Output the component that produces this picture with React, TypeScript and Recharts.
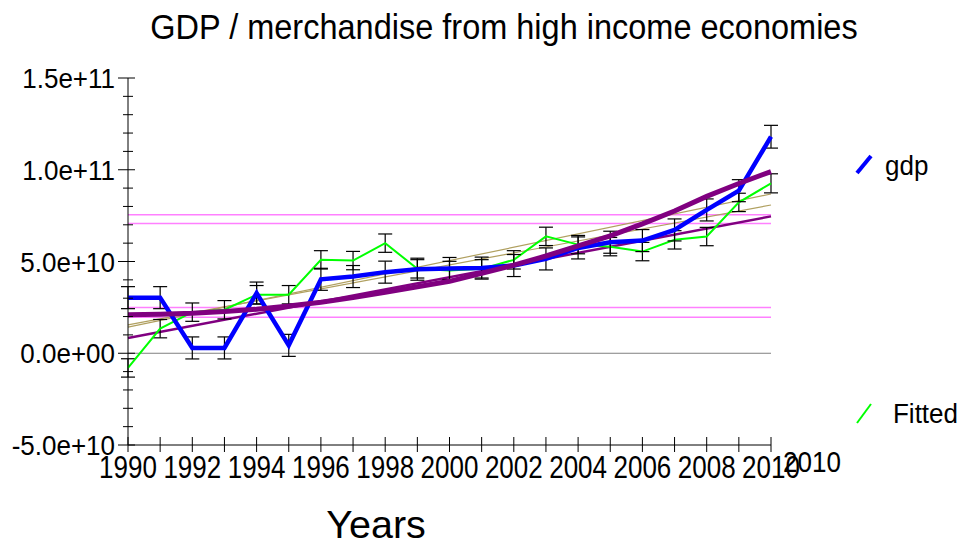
import { Line, LineChart, ReferenceLine, XAxis, YAxis, ErrorBar } from "recharts";

const years = [
  1990, 1991, 1992, 1993, 1994, 1995, 1996, 1997, 1998, 1999, 2000, 2001, 2002,
  2003, 2004, 2005, 2006, 2007, 2008, 2009, 2010,
];
const gdp = [
  3.03e10, 3.03e10, 0.29e10, 0.29e10, 3.28e10, 0.43e10, 4.03e10, 4.18e10,
  4.42e10, 4.58e10, 4.62e10, 4.64e10, 4.78e10, 5.14e10, 5.74e10, 6.05e10,
  6.14e10, 6.72e10, 7.81e10, 8.86e10, 11.8e10,
];
const fitted = [
  -0.8e10, 1.34e10, 2.24e10, 2.37e10, 3.19e10, 3.19e10, 5.09e10, 5.05e10,
  6.0e10, 4.6e10, 4.51e10, 4.6e10, 5.09e10, 6.37e10, 5.92e10, 5.81e10,
  5.54e10, 6.18e10, 6.36e10, 8.22e10, 9.26e10,
];
const expTrend = [
  2.1e10, 2.13e10, 2.18e10, 2.27e10, 2.4e10, 2.57e10, 2.78e10, 3.03e10,
  3.32e10, 3.62e10, 3.92e10, 4.36e10, 4.8e10, 5.3e10, 5.85e10, 6.4e10,
  7.05e10, 7.75e10, 8.55e10, 9.25e10, 9.9e10,
];
const gdpErr = [
  0.6e10, 0.6e10, 0.6e10, 0.6e10, 0.6e10, 0.6e10, 0.6e10, 0.6e10, 0.6e10,
  0.6e10, 0.6e10, 0.6e10, 0.6e10, 0.6e10, 0.6e10, 0.6e10, 0.6e10, 0.6e10,
  0.6e10, 0.6e10, 0.62e10,
];
const fittedErr = [
  0.5e10, 0.5e10, 0.5e10, 0.5e10, 0.5e10, 0.5e10, 0.5e10, 0.5e10, 0.5e10,
  0.5e10, 0.5e10, 0.5e10, 0.5e10, 0.5e10, 0.5e10, 0.5e10, 0.5e10, 0.5e10,
  0.5e10, 0.5e10, 0.52e10,
];

// straight trend lines: [value at 1990, value at 2010]
const linTrend = [0.83e10, 7.46e10];
const bandUpper = [1.42e10, 8.68e10];
const bandLower = [1.55e10, 8.08e10];
const pinkLevels = [7.55e10, 7.07e10, 2.5e10, 1.96e10];

const yTicks = [
  -5e10, -4e10, -3e10, -2e10, -1e10, 0, 1e10, 2e10, 3e10, 4e10, 5e10, 6e10,
  7e10, 8e10, 9e10, 10e10, 11e10, 12e10, 13e10, 14e10, 15e10,
];
const yMajor = [-5e10, 0, 5e10, 10e10, 15e10];
const yMajorLabels = ["-5.0e+10", "0.0e+00", "5.0e+10", "1.0e+11", "1.5e+11"];

const data = years.map((year, i) => ({
  year,
  gdp: gdp[i],
  fitted: fitted[i],
  exp: expTrend[i],
  gdpErr: gdpErr[i],
  fittedErr: fittedErr[i],
}));

const FONT = '"Liberation Sans", Arial, Helvetica, sans-serif';

// text with a little vertical stretch, the reference font is taller than Arial
function Txt({ x, y, size, sy = 1, anchor = "start", children }: any) {
  return (
    <text
      transform={`translate(${x},${y}) scale(1,${sy})`}
      textAnchor={anchor}
      fontSize={size}
      fontFamily={FONT}
      fill="#000"
    >
      {children}
    </text>
  );
}

function YTick({ x, y, payload }: any) {
  const idx = yMajor.indexOf(payload.value);
  const major = idx >= 0;
  return (
    <g>
      <line
        x1={x - (major ? 10 : 5)}
        x2={x + (major ? 7 : 5)}
        y1={y}
        y2={y}
        stroke="#000"
        strokeWidth={1}
      />
      {major && (
        <Txt x={x - 13} y={y + 10} size={26} sy={1.08} anchor="end">
          {yMajorLabels[idx]}
        </Txt>
      )}
    </g>
  );
}

function XTick({ x, y, payload }: any) {
  const v = payload.value;
  return (
    <g>
      <line x1={x} x2={x} y1={y - 8} y2={y + 7} stroke="#000" strokeWidth={1} />
      {v % 2 === 0 && (
        <Txt x={x} y={y + 33} size={26} sy={1.2} anchor="middle">
          {v}
        </Txt>
      )}
    </g>
  );
}

export default function App() {
  return (
    <div style={{ position: "absolute", left: 0, top: 0, width: 964, height: 549, background: "#fff" }}>
      <LineChart
        width={964}
        height={549}
        data={data}
        margin={{ top: 78, right: 193, bottom: 0, left: 0 }}
      >
        <XAxis
          dataKey="year"
          type="number"
          domain={[1990, 2010]}
          ticks={years}
          interval={0}
          height={104}
          tick={<XTick />}
          tickLine={false}
          tickSize={0}
          tickMargin={0}
          stroke="#000"
        />
        <YAxis
          type="number"
          domain={[-5e10, 15e10]}
          ticks={yTicks}
          interval={0}
          width={128}
          tick={<YTick />}
          tickLine={false}
          tickSize={0}
          tickMargin={0}
          stroke="#000"
        />
        {pinkLevels.map((v) => (
          <ReferenceLine key={v} y={v} stroke="#ff80ff" strokeWidth={1.5} />
        ))}
        <ReferenceLine y={0} stroke="#808080" strokeWidth={1} />
        <ReferenceLine
          segment={[{ x: 1990, y: bandUpper[0] }, { x: 2010, y: bandUpper[1] }]}
          stroke="#b0a060"
          strokeWidth={1.2}
        />
        <ReferenceLine
          segment={[{ x: 1990, y: bandLower[0] }, { x: 2010, y: bandLower[1] }]}
          stroke="#b0a060"
          strokeWidth={1.2}
        />
        <ReferenceLine
          segment={[{ x: 1990, y: linTrend[0] }, { x: 2010, y: linTrend[1] }]}
          stroke="#800080"
          strokeWidth={2.5}
        />
        <Line
          dataKey="fitted"
          stroke="#00ff00"
          strokeWidth={2}
          dot={false}
          isAnimationActive={false}
        >
          <ErrorBar dataKey="fittedErr" width={7} stroke="#000" strokeWidth={1.2} isAnimationActive={false} />
        </Line>
        <Line
          dataKey="gdp"
          stroke="#0000ff"
          strokeWidth={4.5}
          dot={false}
          isAnimationActive={false}
        >
          <ErrorBar dataKey="gdpErr" width={7} stroke="#000" strokeWidth={1.2} isAnimationActive={false} />
        </Line>
        <Line
          dataKey="exp"
          stroke="#800080"
          strokeWidth={5}
          dot={false}
          isAnimationActive={false}
        />
      </LineChart>
      <svg
        width={964}
        height={549}
        style={{ position: "absolute", left: 0, top: 0, pointerEvents: "none" }}
      >
        <Txt x={504} y={39} size={32.5} sy={1.1} anchor="middle">
          GDP / merchandise from high income economies
        </Txt>
        <Txt x={376} y={538} size={39.5} anchor="middle">
          Years
        </Txt>
        <Txt x={812} y={472} size={26} sy={1.1} anchor="middle">
          2010
        </Txt>
        <line x1={857} y1={173} x2={871} y2={156} stroke="#0000ff" strokeWidth={4} />
        <Txt x={885} y={175} size={26} sy={1.05}>
          gdp
        </Txt>
        <line x1={857} y1={423} x2={871} y2={404} stroke="#00ff00" strokeWidth={2} />
        <Txt x={893} y={423} size={26} sy={1.05}>
          Fitted
        </Txt>
      </svg>
    </div>
  );
}
